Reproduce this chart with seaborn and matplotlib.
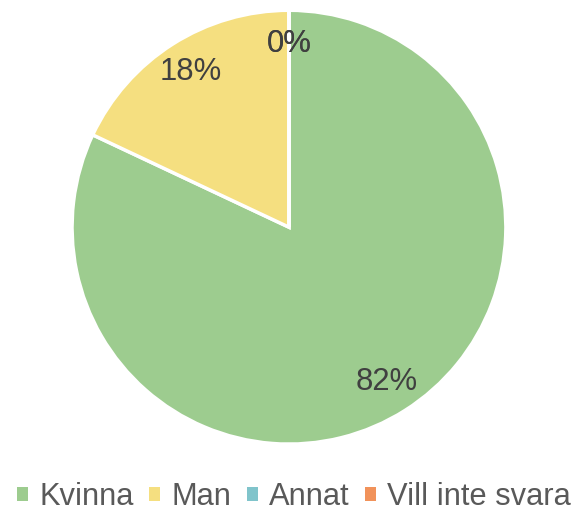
import matplotlib
matplotlib.use("Agg")
import matplotlib.pyplot as plt
from matplotlib.patches import Patch
import seaborn as sns

categories = ["Kvinna", "Man", "Annat", "Vill inte svara"]
values = [82, 18, 0, 0]
colors = ["#9DCC8F", "#F5DF80", "#80C4CB", "#F1925A"]

sns.set_theme(style="white")
plt.rcParams['font.family'] = ['Liberation Sans', 'DejaVu Sans']

fig = plt.figure(figsize=(5.77, 5.14), dpi=100)
ax = fig.add_axes([0.1248, 0.136, 0.752, 0.844])
wedges, texts, autotexts = ax.pie(
    values, colors=colors, startangle=90, counterclock=False,
    autopct=lambda p: f"{p:.0f}%", pctdistance=0.845,
    wedgeprops=dict(edgecolor="white", linewidth=2.5),
    textprops=dict(fontsize=22.3, color="#404040"),
)
ax.set_xlim(-1, 1)
ax.set_ylim(-1, 1)
ax.set_aspect("equal")
ax.axis("off")

handles = [Patch(facecolor=c, edgecolor="none") for c in colors]
fig.legend(handles, categories, loc="center", bbox_to_anchor=(0.5 + 5.5 / 577, 1 - 497 / 514),
           ncol=4, frameon=False, fontsize=22.2, handlelength=0.36, handleheight=0.36,
           handletextpad=0.36, columnspacing=0.5, labelcolor="#595959",
           borderaxespad=0, borderpad=0)

fig.savefig("out.png", dpi=100)
